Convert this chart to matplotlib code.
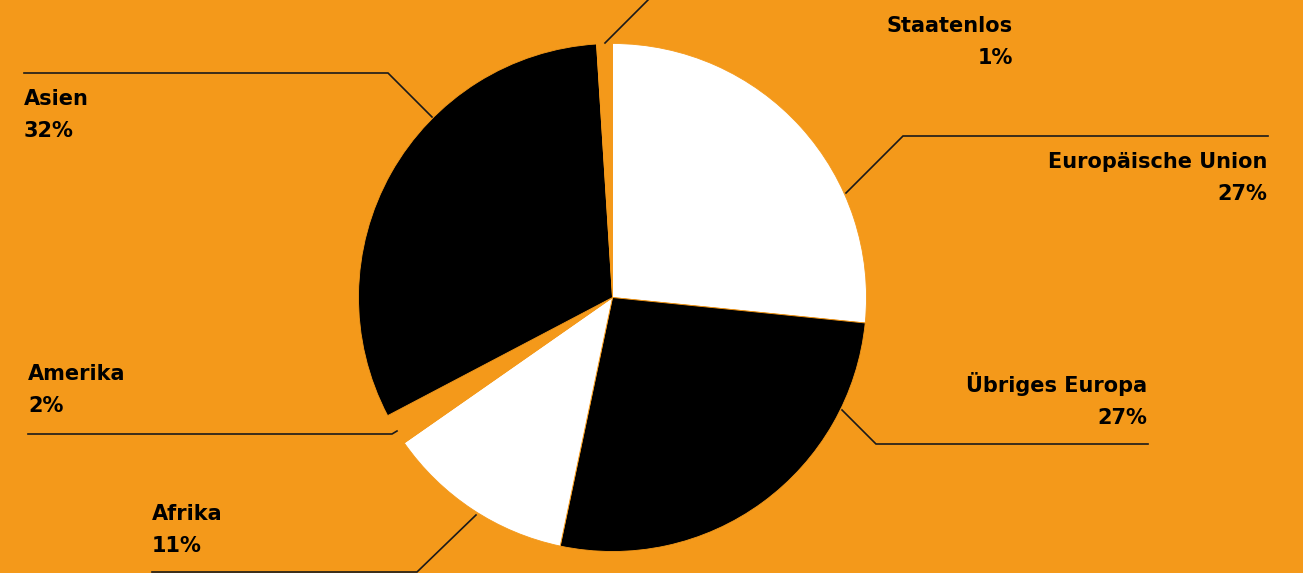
import matplotlib.pyplot as plt

# Anteile nach Herkunft, im Uhrzeigersinn ab 12 Uhr
regions = ['Europäische Union', 'Übriges Europa', 'Afrika', 'Amerika', 'Asien', 'Staatenlos']
shares = [26.6, 26.7, 12.0, 2.0, 31.7, 1.0]      # wedge sizes
pct_labels = [27, 27, 11, 2, 32, 1]              # printed percentages

BG = '#F4991A'
slice_colors = ['white', 'black', 'white', BG, 'black', BG]

W, H = 1303, 573
CX, CY, R = 612.5, 297.5, 254

# label layout in pixel coords (y from top): text anchor, alignment, leader line points
labels = {
    'Staatenlos':        dict(x=1013, y=32, ha='right', line=[(605, 43), (655, -7)]),
    'Europäische Union': dict(x=1267, y=168, ha='right', line=[(846, 193), (903, 136), (1268, 136)]),
    'Übriges Europa':    dict(x=1147, y=392, ha='right', line=[(842, 410), (876, 444), (1148, 444)]),
    'Afrika':            dict(x=152, y=520, ha='left', line=[(476, 515), (417, 572), (152, 572)]),
    'Amerika':           dict(x=28, y=380, ha='left', line=[(397, 431), (392, 434), (28, 434)]),
    'Asien':             dict(x=24, y=105, ha='left', line=[(432, 117), (388, 73), (24, 73)]),
}

fig = plt.figure(figsize=(W / 100, H / 100), dpi=100, facecolor=BG)
ax = fig.add_axes([0, 0, 1, 1])
ax.set_facecolor(BG)

ax.pie(shares, colors=slice_colors, startangle=90, counterclock=False,
       center=(CX, H - CY), radius=R,
       wedgeprops=dict(edgecolor=BG, linewidth=0.6))

for name, pct in zip(regions, pct_labels):
    lab = labels[name]
    xs = [p[0] for p in lab['line']]
    ys = [H - p[1] for p in lab['line']]
    ax.plot(xs, ys, color='#1a1a1a', lw=1.2, solid_joinstyle='miter')
    ax.text(lab['x'], H - lab['y'], name, ha=lab['ha'], va='baseline',
            fontsize=15, fontweight='bold', color='black')
    ax.text(lab['x'], H - lab['y'] - 32, f'{pct}%', ha=lab['ha'], va='baseline',
            fontsize=15, fontweight='bold', color='black')

ax.set_xlim(0, W)
ax.set_ylim(0, H)
ax.set_aspect('auto')
ax.axis('off')

plt.savefig('out.png', dpi=100, facecolor=BG)
